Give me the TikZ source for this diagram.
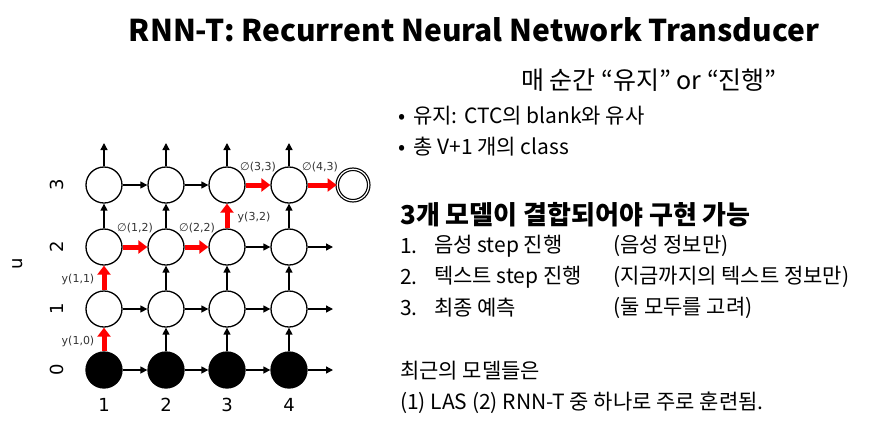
\documentclass[tikz,border=0pt]{standalone}
\usepackage{fontspec}
\usetikzlibrary{arrows.meta}
\newfontfamily\krfont{Noto Sans CJK KR}
\newfontfamily\djfont{DejaVu Sans}

\begin{document}
\begin{tikzpicture}[x=1pt, y=-1pt,
    state/.style={circle, draw, line width=1.3pt, minimum size=36pt, inner sep=0pt},
    filled/.style={state, fill=black},
    arrow/.style={-{Triangle[length=7pt,width=7pt]}, line width=1.4pt},
    redarrow/.style={-{Triangle[length=9pt,width=13pt]}, line width=5pt, red},
    lbl/.style={font=\djfont\fontsize{11}{13}\selectfont, text=black!80, inner sep=0pt},
    axis/.style={font=\djfont\fontsize{18}{20}\selectfont, inner sep=0pt},
    txt/.style={font=\krfont\fontsize{21}{24}\selectfont, anchor=west, inner sep=0pt}
]
\useasboundingbox (0,0) rectangle (881,432);

% title
\node[font=\krfont\bfseries\fontsize{30}{36}\selectfont] (title) at (474,30) {RNN-T: Recurrent Neural Network Transducer};

% lattice
\foreach \c/\x in {1/104,2/166,3/227,4/289}{
  \node[filled] (n\c0) at (\x,370) {};
  \node[state] (n\c1) at (\x,309) {};
  \node[state] (n\c2) at (\x,247) {};
  \node[state] (n\c3) at (\x,185) {};
  \coordinate (top\c) at (\x,143);
  \node[axis] (col\c) at (\x,405) {\c};
}
\node[state, minimum size=31.5pt, line width=1.2pt, double, double distance=1.2pt] (final) at (353,185) {};
\coordinate (out0) at (333,370);
\coordinate (out1) at (333,309);
\coordinate (out2) at (333,247);

\node[axis, rotate=90] (row0) at (57,370) {0};
\node[axis, rotate=90] (row1) at (57,309) {1};
\node[axis, rotate=90] (row2) at (57,247) {2};
\node[axis, rotate=90] (row3) at (57,185) {3};
\node[axis, rotate=90] (uaxis) at (18,264) {u};

% black moves
\foreach \a/\b in {n10/n20, n20/n30, n30/n40, n40/out0,
                   n11/n21, n21/n31, n31/n41, n41/out1,
                   n32/n42, n42/out2, n13/n23, n23/n33,
                   n20/n21, n21/n22, n22/n23, n30/n31, n31/n32,
                   n40/n41, n41/n42, n42/n43, n12/n13,
                   n13/top1, n23/top2, n33/top3, n43/top4}
  \draw[arrow] (\a) -- (\b);

% red path
\foreach \a/\b in {n10/n11, n11/n12, n12/n22, n22/n32, n32/n33, n33/n43, n43/final}
  \draw[redarrow] (\a) -- (\b);

\node[lbl] (y10) at (78,341) {y(1,0)};
\node[lbl] (y11) at (78,279) {y(1,1)};
\node[lbl] (e12) at (135,228) {∅(1,2)};
\node[lbl] (e22) at (197,228) {∅(2,2)};
\node[lbl] (y32) at (254,217) {y(3,2)};
\node[lbl] (e33) at (258,167) {∅(3,3)};
\node[lbl] (e43) at (320,167) {∅(4,3)};

% text on the right
\node[font=\krfont\fontsize{25}{30}\selectfont] (head) at (649,80) {매 순간 “유지” or “진행”};
\node[txt] (b1) at (398,116) {•\hspace{8pt}유지: CTC의 blank와 유사};
\node[txt] (b2) at (398,147) {•\hspace{8pt}총 V+1 개의 class};
\node[txt, font=\krfont\bfseries\fontsize{26}{30}\selectfont] (sub) at (400,215) {3개 모델이 결합되어야 구현 가능};
\node[txt] (i1) at (400,246) {1.};
\node[txt] (i2) at (400,277) {2.};
\node[txt] (i3) at (400,308) {3.};
\node[txt] (t1) at (434,246) {음성 step 진행};
\node[txt] (t2) at (434,277) {텍스트 step 진행};
\node[txt] (t3) at (434,308) {최종 예측};
\node[txt] (p1) at (613,246) {(음성 정보만)};
\node[txt] (p2) at (613,277) {(지금까지의 텍스트 정보만)};
\node[txt] (p3) at (613,308) {(둘 모두를 고려)};
\node[txt] (r1) at (400,371) {최근의 모델들은};
\node[txt] (r2) at (400,403) {(1) LAS (2) RNN-T 중 하나로 주로 훈련됨.};
\end{tikzpicture}
\end{document}
